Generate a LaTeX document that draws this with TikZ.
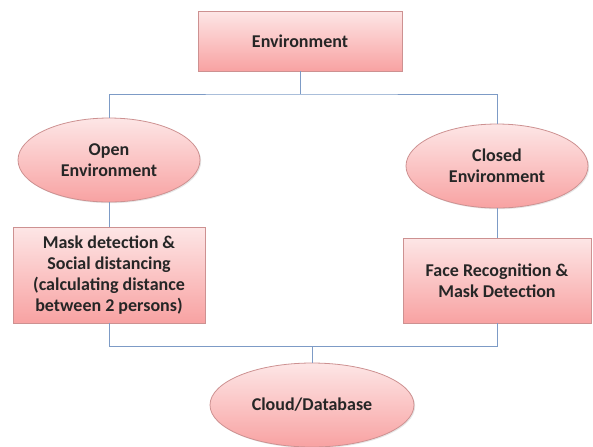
\documentclass[tikz,border=0pt]{standalone}
\usepackage{fontspec}
\setmainfont{Carlito}
\usetikzlibrary{shapes.geometric,shadows}
\definecolor{envtop}{RGB}{253,230,230}
\definecolor{envbot}{RGB}{248,162,162}
\definecolor{envedge}{RGB}{205,145,145}
\definecolor{linkblue}{RGB}{125,155,198}

\begin{document}
\begin{tikzpicture}[x=0.5pt, y=-0.5pt,
  box/.style={draw=envedge, top color=envtop, bottom color=envbot, inner sep=0pt, align=center,
    font=\fontsize{9}{10.5}\selectfont\bfseries, text=black!85,
    drop shadow={opacity=0.2, shadow xshift=0.6pt, shadow yshift=-0.6pt}},
  oval/.style={box, ellipse},
  link/.style={draw=linkblue, line width=0.5pt}
]
  \useasboundingbox (0,0) rectangle (593,446);

  % Top
  \node[box, minimum width=102pt, minimum height=30pt] (env) at (300,41) {Environment};

  % Environments
  \node[oval, minimum width=91pt, minimum height=42pt] (open) at (109,160) {Open\\Environment};
  \node[oval, minimum width=91pt, minimum height=42pt] (closed) at (497,166) {Closed\\Environment};

  % Tasks
  \node[box, minimum width=96pt, minimum height=48pt] (mask) at (109,275) {Mask detection \&\\Social distancing\\(calculating distance\\between 2 persons)};
  \node[box, minimum width=94pt, minimum height=42.5pt] (face) at (497,280.5) {Face Recognition \&\\Mask Detection};

  % Storage
  \node[oval, minimum width=102pt, minimum height=42pt] (cloud) at (312,405) {Cloud/Database};

  % Lines
  \coordinate (split) at (300,94);
  \coordinate (join) at (312,346);
  \draw[link] (env.south) -- (split);
  \draw[link] (open.north) |- (split) -| (closed.north);
  \draw[link] (open.south) -- (mask.north);
  \draw[link] (closed.south) -- (face.north);
  \draw[link] (mask.south) |- (join) -| (face.south);
  \draw[link] (join) -- (cloud.north);
\end{tikzpicture}
\end{document}
